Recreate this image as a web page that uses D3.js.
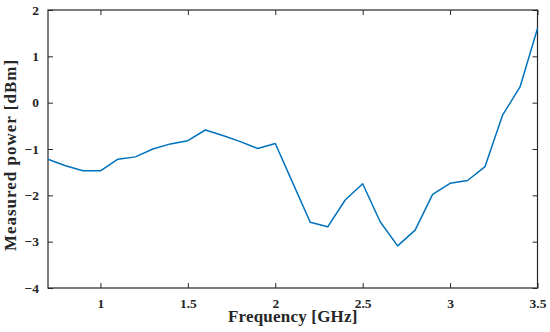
<!DOCTYPE html>
<html>
<head>
<meta charset="utf-8">
<script src="https://cdn.jsdelivr.net/npm/d3@7"></script>
<style>
  body { margin: 0; background: #fff; }
</style>
</head>
<body>
<svg id="chart" width="550" height="332"></svg>
<script>
// frequency samples [GHz]
const freq = [0.7, 0.8, 0.9, 1.0, 1.1, 1.2, 1.3, 1.4, 1.5, 1.6, 1.7, 1.8, 1.9, 2.0,
              2.1, 2.2, 2.3, 2.4, 2.5, 2.6, 2.7, 2.8, 2.9, 3.0, 3.1, 3.2, 3.3, 3.4, 3.5];
// measured power [dBm]
const power = [-1.22, -1.36, -1.47, -1.47, -1.22, -1.17, -1.0, -0.89, -0.82, -0.59,
               -0.71, -0.84, -0.99, -0.88, -1.73, -2.58, -2.68, -2.10, -1.75, -2.57,
               -3.09, -2.75, -1.98, -1.74, -1.68, -1.38, -0.27, 0.34, 1.60];
const xTicks = [1, 1.5, 2, 2.5, 3, 3.5];
const yTicks = [-4, -3, -2, -1, 0, 1, 2];

const data = freq.map((f, i) => ({ f: f, p: power[i] }));
const FONT = '"Liberation Serif", "Times New Roman", serif';

const svg = d3.select('#chart');
const margin = { left: 48, right: 12.5, top: 10, bottom: 44 };
const width = +svg.attr('width');
const height = +svg.attr('height');
const innerWidth = width - margin.left - margin.right;
const innerHeight = height - margin.top - margin.bottom;

const g = svg.append('g')
    .attr('transform', `translate(${margin.left},${margin.top})`)
    .attr('font-family', FONT);

const xScale = d3.scaleLinear().domain([0.7, 3.5]).range([0, innerWidth]);
const yScale = d3.scaleLinear().domain([-4, 2]).range([innerHeight, 0]);

const fmt = d => d < 0 ? '\u2212' + Math.abs(d) : String(d);

const styleAxis = sel => {
  sel.attr('font-family', FONT);
  sel.select('.domain').remove();
  sel.selectAll('line').attr('stroke', '#262626').attr('stroke-width', 1);
  sel.selectAll('text')
      .attr('fill', '#262626')
      .style('font-family', FONT)
      .style('font-weight', 'bold')
      .style('font-size', '13.5px');
};
// top / right axes carry ticks only
const noLabels = sel => sel.selectAll('text').remove();

g.append('g')
    .attr('transform', `translate(0,${innerHeight})`)
    .call(d3.axisBottom(xScale).tickValues(xTicks).tickSize(-5).tickPadding(10).tickFormat(fmt))
    .call(styleAxis);

g.append('g')
    .call(d3.axisTop(xScale).tickValues(xTicks).tickSize(-5))
    .call(styleAxis).call(noLabels);

g.append('g')
    .call(d3.axisLeft(yScale).tickValues(yTicks).tickSize(-5).tickPadding(9).tickFormat(fmt))
    .call(styleAxis);

g.append('g')
    .attr('transform', `translate(${innerWidth},0)`)
    .call(d3.axisRight(yScale).tickValues(yTicks).tickSize(-5))
    .call(styleAxis).call(noLabels);

g.append('rect')
    .attr('width', innerWidth)
    .attr('height', innerHeight)
    .attr('fill', 'none')
    .attr('stroke', '#262626')
    .attr('stroke-width', 1.2);

g.append('path')
    .datum(data)
    .attr('fill', 'none')
    .attr('stroke', '#0072BD')
    .attr('stroke-width', 1.5)
    .attr('stroke-linejoin', 'round')
    .attr('d', d3.line().x(d => xScale(d.f)).y(d => yScale(d.p)));

g.append('text')
    .attr('x', innerWidth / 2)
    .attr('y', innerHeight + 34)
    .attr('fill', '#262626')
    .style('text-anchor', 'middle')
    .style('font-family', FONT)
    .style('font-weight', 'bold')
    .style('font-size', '17px')
    .style('letter-spacing', '0.2px')
    .text('Frequency [GHz]');

g.append('text')
    .attr('transform', 'rotate(-90)')
    .attr('x', -145)
    .attr('y', -32)
    .attr('fill', '#262626')
    .style('text-anchor', 'middle')
    .style('font-family', FONT)
    .style('font-weight', 'bold')
    .style('font-size', '17px')
    .style('letter-spacing', '1px')
    .text('Measured power [dBm]');
</script>
</body>
</html>
